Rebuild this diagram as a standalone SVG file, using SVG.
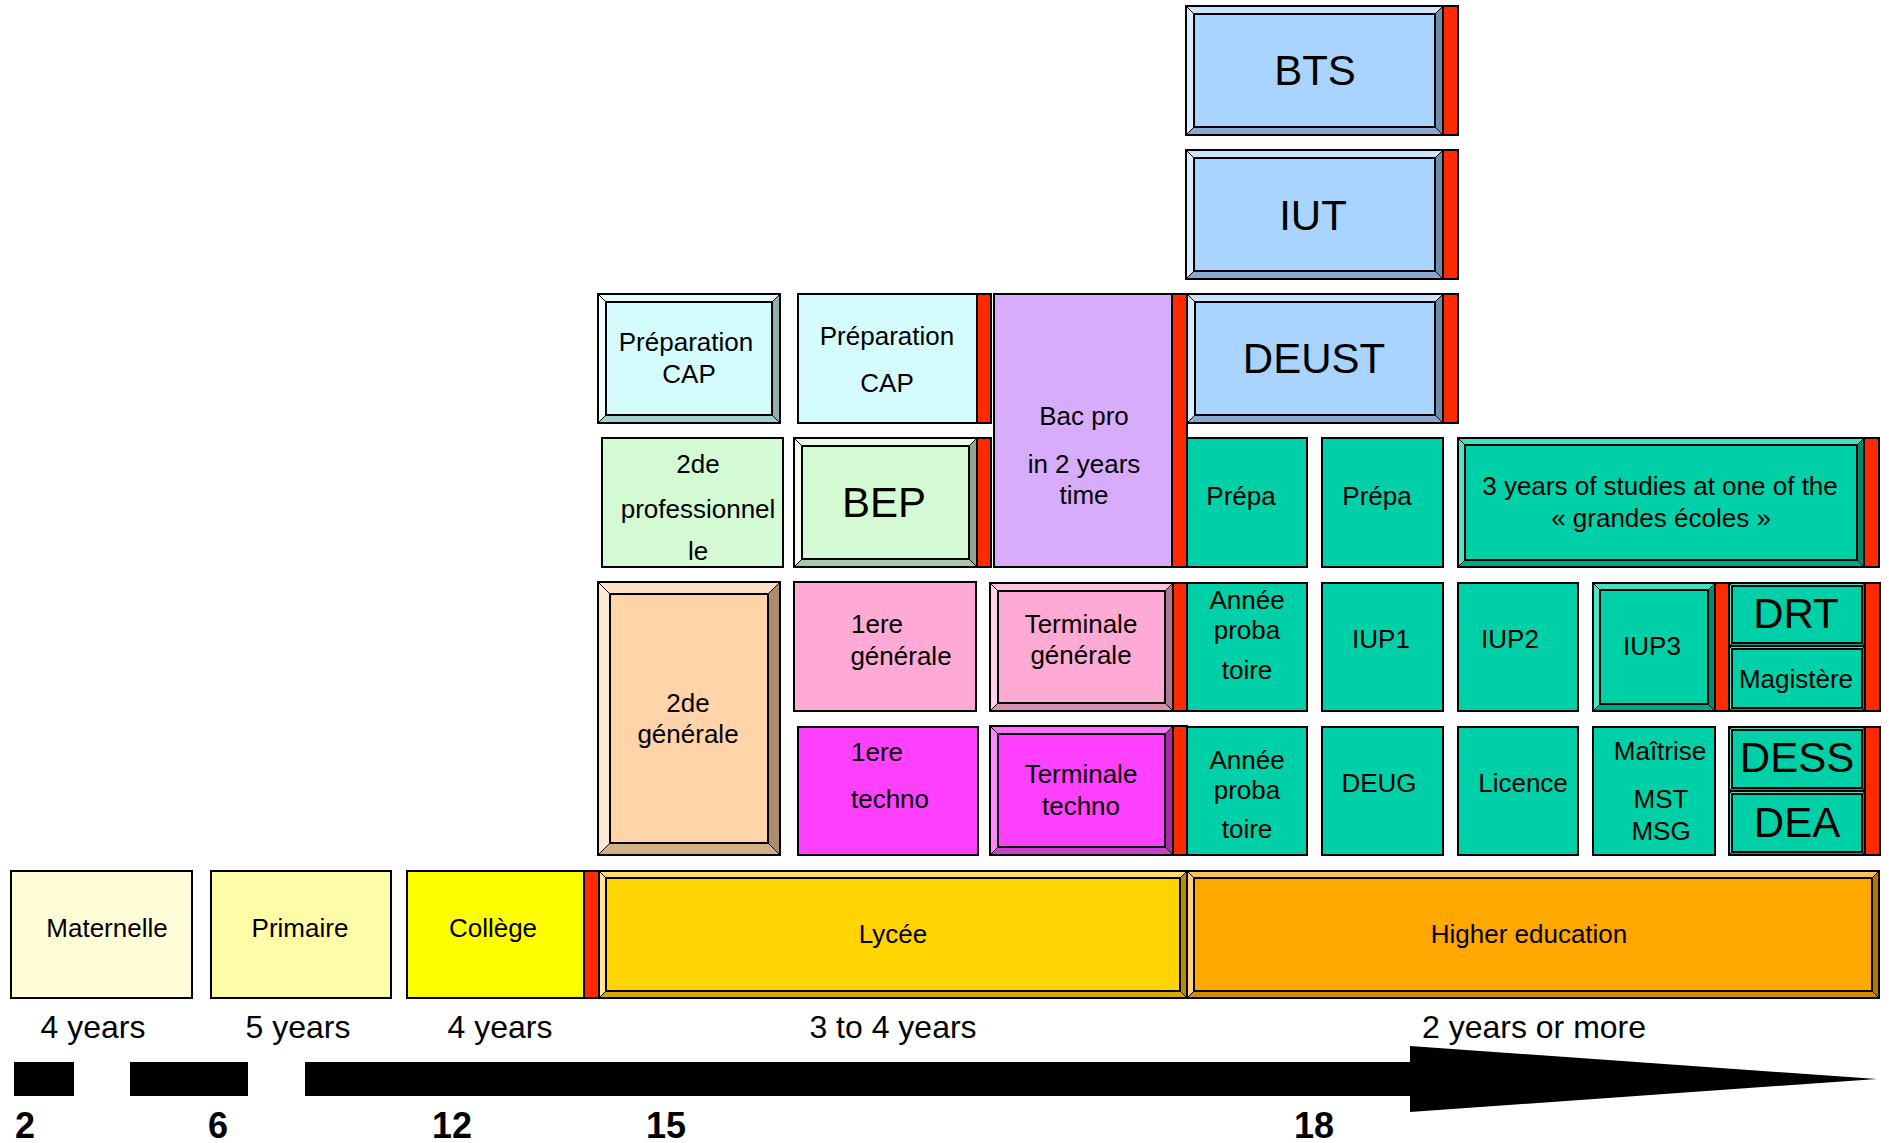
<svg xmlns="http://www.w3.org/2000/svg" width="1889" height="1143" viewBox="0 0 1889 1143">
<style>
.bx polygon{stroke:#000;stroke-width:1}
.bx .in{stroke:#000;stroke-width:2}
.bx .o{fill:none;stroke:#000;stroke-width:2}
.fl{stroke:#000;stroke-width:2}
.red{fill:#ff2a00;stroke:#000;stroke-width:2}
.blue .in{fill:#a8d4ff}.blue .tp{fill:#c8e4ff}.blue .lf{fill:#d8eeff}.blue .rt{fill:#6c8cac}.blue .bt{fill:#88a8cc}
.cyan .in{fill:#d4fcfc}.cyan .tp{fill:#e4ffff}.cyan .lf{fill:#eeffff}.cyan .rt{fill:#90b0b0}.cyan .bt{fill:#a8cccc}
.green .in{fill:#d4fad4}.green .tp{fill:#e4ffe4}.green .lf{fill:#eeffee}.green .rt{fill:#90a890}.green .bt{fill:#a8c8a8}
.peach .in{fill:#ffd4a8}.peach .tp{fill:#ffe2c4}.peach .lf{fill:#ffe8d4}.peach .rt{fill:#ac8c6c}.peach .bt{fill:#d4b088}
.pink .in{fill:#ffaad4}.pink .tp{fill:#ffc4e0}.pink .lf{fill:#ffd4ea}.pink .rt{fill:#b07890}.pink .bt{fill:#d890b0}
.mag .in{fill:#ff40ff}.mag .tp{fill:#ff70ff}.mag .lf{fill:#ff88ff}.mag .rt{fill:#a828a8}.mag .bt{fill:#cc40cc}
.teal .in{fill:#00d0a8}.teal .tp{fill:#40e0c0}.teal .lf{fill:#50e4c8}.teal .rt{fill:#008c70}.teal .bt{fill:#00a888}
.gold .in{fill:#ffd400}.gold .tp{fill:#ffe060}.gold .lf{fill:#ffe890}.gold .rt{fill:#b09000}.gold .bt{fill:#d4aa00}
.orange .in{fill:#ffa800}.orange .tp{fill:#ffc050}.orange .lf{fill:#ffd080}.orange .rt{fill:#b07800}.orange .bt{fill:#d08c00}
.f-mat{fill:#fffdd8}.f-pri{fill:#fffca8}.f-col{fill:#ffff00}.f-lav{fill:#d8acfc}.f-cyan{fill:#d4fcfc}.f-green{fill:#d4fad4}.f-pink{fill:#ffaad4}.f-mag{fill:#ff40ff}.f-teal{fill:#00d0a8}
text{font-family:"Liberation Sans",Arial,sans-serif;font-size:26px;text-anchor:middle;fill:#000}
.big{font-size:42px}
.yr{font-size:32px}
.age{font-size:36px;font-weight:bold}
</style>

<g id="bts" class="bx blue">
<polygon class="tp" points="1186,6 1443,6 1435,14 1194,14"/><polygon class="lf" points="1186,6 1194,14 1194,127 1186,135"/><polygon class="rt" points="1443,6 1443,135 1435,127 1435,14"/><polygon class="bt" points="1186,135 1194,127 1435,127 1443,135"/>
<rect class="in" x="1194" y="14" width="241" height="113"/><rect class="o" x="1186" y="6" width="257" height="129"/>
<rect class="red" x="1443" y="6" width="15" height="129"/>
<text class="big" x="1315" y="85">BTS</text>
</g>
<g id="iut" class="bx blue">
<polygon class="tp" points="1186,150 1443,150 1435,158 1194,158"/><polygon class="lf" points="1186,150 1194,158 1194,271 1186,279"/><polygon class="rt" points="1443,150 1443,279 1435,271 1435,158"/><polygon class="bt" points="1186,279 1194,271 1435,271 1443,279"/>
<rect class="in" x="1194" y="158" width="241" height="113"/><rect class="o" x="1186" y="150" width="257" height="129"/>
<rect class="red" x="1443" y="150" width="15" height="129"/>
<text class="big" x="1313" y="230">IUT</text>
</g>
<g id="deust" class="bx blue">
<polygon class="tp" points="1187,294 1443,294 1435,302 1195,302"/><polygon class="lf" points="1187,294 1195,302 1195,415 1187,423"/><polygon class="rt" points="1443,294 1443,423 1435,415 1435,302"/><polygon class="bt" points="1187,423 1195,415 1435,415 1443,423"/>
<rect class="in" x="1195" y="302" width="240" height="113"/><rect class="o" x="1187" y="294" width="256" height="129"/>
<rect class="red" x="1443" y="294" width="15" height="129"/>
<text class="big" x="1314" y="373">DEUST</text>
</g>

<g id="prepcap1" class="bx cyan">
<polygon class="tp" points="598,294 780,294 772,302 606,302"/><polygon class="lf" points="598,294 606,302 606,415 598,423"/><polygon class="rt" points="780,294 780,423 772,415 772,302"/><polygon class="bt" points="598,423 606,415 772,415 780,423"/>
<rect class="in" x="606" y="302" width="166" height="113"/><rect class="o" x="598" y="294" width="182" height="129"/>
<text x="686" y="351">Préparation</text><text x="689" y="383">CAP</text>
</g>
<g id="prepcap2">
<rect class="fl f-cyan" x="798" y="294" width="179" height="129"/>
<rect class="red" x="977" y="294" width="14" height="129"/>
<text x="887" y="345">Préparation</text><text x="887" y="392">CAP</text>
</g>
<g id="bacpro">
<rect class="fl f-lav" x="994" y="294" width="178" height="273"/>
<rect class="red" x="1172" y="294" width="15" height="273"/>
<text x="1084" y="425">Bac pro</text><text x="1084" y="473">in 2 years</text><text x="1084" y="504">time</text>
</g>
<g id="deuxpro">
<rect class="fl f-green" x="602" y="438" width="181" height="129"/>
<text x="698" y="473">2de</text><text x="698" y="518">professionnel</text><text x="698" y="560">le</text>
</g>
<g id="bep" class="bx green">
<polygon class="tp" points="794,438 977,438 969,446 802,446"/><polygon class="lf" points="794,438 802,446 802,559 794,567"/><polygon class="rt" points="977,438 977,567 969,559 969,446"/><polygon class="bt" points="794,567 802,559 969,559 977,567"/>
<rect class="in" x="802" y="446" width="167" height="113"/><rect class="o" x="794" y="438" width="183" height="129"/>
<rect class="red" x="977" y="438" width="14" height="129"/>
<text class="big" x="884" y="517">BEP</text>
</g>

<g id="prepa1"><rect class="fl f-teal" x="1187" y="438" width="120" height="129"/><text x="1241" y="505">Prépa</text></g>
<g id="prepa2"><rect class="fl f-teal" x="1322" y="438" width="121" height="129"/><text x="1377" y="505">Prépa</text></g>
<g id="grandesecoles" class="bx teal">
<polygon class="tp" points="1458,438 1864,438 1857,445 1465,445"/><polygon class="lf" points="1458,438 1465,445 1465,560 1458,567"/><polygon class="rt" points="1864,438 1864,567 1857,560 1857,445"/><polygon class="bt" points="1458,567 1465,560 1857,560 1864,567"/>
<rect class="in" x="1465" y="445" width="392" height="115"/><rect class="o" x="1458" y="438" width="406" height="129"/>
<rect class="red" x="1864" y="438" width="15" height="129"/>
<text x="1660" y="495">3 years of studies at one of the</text><text x="1661" y="527">« grandes écoles »</text>
</g>

<g id="deuxgen" class="bx peach">
<polygon class="tp" points="598,582 780,582 768,594 610,594"/><polygon class="lf" points="598,582 610,594 610,843 598,855"/><polygon class="rt" points="780,582 780,855 768,843 768,594"/><polygon class="bt" points="598,855 610,843 768,843 780,855"/>
<rect class="in" x="610" y="594" width="158" height="249"/><rect class="o" x="598" y="582" width="182" height="273"/>
<text x="688" y="712">2de</text><text x="688" y="743">générale</text>
</g>
<g id="premgen">
<rect class="fl f-pink" x="794" y="582" width="182" height="129"/>
<text x="877" y="633">1ere</text><text x="901" y="665">générale</text>
</g>
<g id="termgen" class="bx pink">
<polygon class="tp" points="990,583 1173,583 1165,591 998,591"/><polygon class="lf" points="990,583 998,591 998,703 990,711"/><polygon class="rt" points="1173,583 1173,711 1165,703 1165,591"/><polygon class="bt" points="990,711 998,703 1165,703 1173,711"/>
<rect class="in" x="998" y="591" width="167" height="112"/><rect class="o" x="990" y="583" width="183" height="128"/>
<rect class="red" x="1173" y="583" width="14" height="128"/>
<text x="1081" y="633">Terminale</text><text x="1081" y="664">générale</text>
</g>
<g id="annee1"><rect class="fl f-teal" x="1187" y="583" width="120" height="128"/><text x="1247" y="609">Année</text><text x="1247" y="639">proba</text><text x="1247" y="679">toire</text></g>
<g id="iup1"><rect class="fl f-teal" x="1322" y="583" width="121" height="128"/><text x="1381" y="648">IUP1</text></g>
<g id="iup2"><rect class="fl f-teal" x="1458" y="583" width="120" height="128"/><text x="1510" y="648">IUP2</text></g>
<g id="iup3" class="bx teal">
<polygon class="tp" points="1593,583 1715,583 1708,590 1600,590"/><polygon class="lf" points="1593,583 1600,590 1600,704 1593,711"/><polygon class="rt" points="1715,583 1715,711 1708,704 1708,590"/><polygon class="bt" points="1593,711 1600,704 1708,704 1715,711"/>
<rect class="in" x="1600" y="590" width="108" height="114"/><rect class="o" x="1593" y="583" width="122" height="128"/>
<rect class="red" x="1715" y="583" width="14" height="128"/>
<text x="1652" y="655">IUP3</text>
</g>
<g id="drt" class="bx teal">
<polygon class="tp" points="1729,583 1865,583 1862,586 1732,586"/><polygon class="lf" points="1729,583 1732,586 1732,643 1729,646"/><polygon class="rt" points="1865,583 1865,646 1862,643 1862,586"/><polygon class="bt" points="1729,646 1732,643 1862,643 1865,646"/>
<rect class="in" x="1732" y="586" width="130" height="57"/><rect class="o" x="1729" y="583" width="136" height="63"/>
<text class="big" x="1796" y="628">DRT</text>
</g>
<g id="magistere" class="bx teal">
<polygon class="tp" points="1729,646 1865,646 1862,649 1732,649"/><polygon class="lf" points="1729,646 1732,649 1732,708 1729,711"/><polygon class="rt" points="1865,646 1865,711 1862,708 1862,649"/><polygon class="bt" points="1729,711 1732,708 1862,708 1865,711"/>
<rect class="in" x="1732" y="649" width="130" height="59"/><rect class="o" x="1729" y="646" width="136" height="65"/>
<rect class="red" x="1865" y="583" width="15" height="128"/>
<text x="1796" y="688">Magistère</text>
</g>

<g id="premtechno">
<rect class="fl f-mag" x="798" y="727" width="180" height="128"/>
<text x="877" y="761">1ere</text><text x="890" y="808">techno</text>
</g>
<g id="termtechno" class="bx mag">
<polygon class="tp" points="990,726 1173,726 1165,734 998,734"/><polygon class="lf" points="990,726 998,734 998,847 990,855"/><polygon class="rt" points="1173,726 1173,855 1165,847 1165,734"/><polygon class="bt" points="990,855 998,847 1165,847 1173,855"/>
<rect class="in" x="998" y="734" width="167" height="113"/><rect class="o" x="990" y="726" width="183" height="129"/>
<rect class="red" x="1173" y="726" width="14" height="129"/>
<text x="1081" y="783">Terminale</text><text x="1081" y="815">techno</text>
</g>
<g id="annee2"><rect class="fl f-teal" x="1187" y="727" width="120" height="128"/><text x="1247" y="769">Année</text><text x="1247" y="799">proba</text><text x="1247" y="838">toire</text></g>
<g id="deug"><rect class="fl f-teal" x="1322" y="727" width="121" height="128"/><text x="1379" y="792">DEUG</text></g>
<g id="licence"><rect class="fl f-teal" x="1458" y="727" width="120" height="128"/><text x="1523" y="792">Licence</text></g>
<g id="maitrise"><rect class="fl f-teal" x="1593" y="727" width="122" height="128"/><text x="1660" y="760">Maîtrise</text><text x="1661" y="808">MST</text><text x="1661" y="840">MSG</text></g>
<g id="dess" class="bx teal">
<polygon class="tp" points="1729,727 1865,727 1862,730 1732,730"/><polygon class="lf" points="1729,727 1732,730 1732,788 1729,791"/><polygon class="rt" points="1865,727 1865,791 1862,788 1862,730"/><polygon class="bt" points="1729,791 1732,788 1862,788 1865,791"/>
<rect class="in" x="1732" y="730" width="130" height="58"/><rect class="o" x="1729" y="727" width="136" height="64"/>
<text class="big" x="1797" y="772">DESS</text>
</g>
<g id="dea" class="bx teal">
<polygon class="tp" points="1729,791 1865,791 1862,794 1732,794"/><polygon class="lf" points="1729,791 1732,794 1732,852 1729,855"/><polygon class="rt" points="1865,791 1865,855 1862,852 1862,794"/><polygon class="bt" points="1729,855 1732,852 1862,852 1865,855"/>
<rect class="in" x="1732" y="794" width="130" height="58"/><rect class="o" x="1729" y="791" width="136" height="64"/>
<rect class="red" x="1865" y="727" width="15" height="128"/>
<text class="big" x="1797" y="837">DEA</text>
</g>

<g id="maternelle"><rect class="fl f-mat" x="11" y="871" width="181" height="127"/><text x="107" y="937">Maternelle</text></g>
<g id="primaire"><rect class="fl f-pri" x="211" y="871" width="180" height="127"/><text x="300" y="937">Primaire</text></g>
<g id="college"><rect class="fl f-col" x="407" y="871" width="177" height="127"/><rect class="red" x="584" y="871" width="15" height="127"/><text x="493" y="937">Collège</text></g>
<g id="lycee" class="bx gold">
<polygon class="tp" points="599,871 1187,871 1180,878 606,878"/><polygon class="lf" points="599,871 606,878 606,991 599,998"/><polygon class="rt" points="1187,871 1187,998 1180,991 1180,878"/><polygon class="bt" points="599,998 606,991 1180,991 1187,998"/>
<rect class="in" x="606" y="878" width="574" height="113"/><rect class="o" x="599" y="871" width="588" height="127"/>
<text x="893" y="943">Lycée</text>
</g>
<g id="higher" class="bx orange">
<polygon class="tp" points="1187,871 1879,871 1872,878 1194,878"/><polygon class="lf" points="1187,871 1194,878 1194,991 1187,998"/><polygon class="rt" points="1879,871 1879,998 1872,991 1872,878"/><polygon class="bt" points="1187,998 1194,991 1872,991 1879,998"/>
<rect class="in" x="1194" y="878" width="678" height="113"/><rect class="o" x="1187" y="871" width="692" height="127"/>
<text x="1529" y="943">Higher education</text>
</g>

<g id="timeline">
<text class="yr" x="93" y="1038">4 years</text>
<text class="yr" x="298" y="1038">5 years</text>
<text class="yr" x="500" y="1038">4 years</text>
<text class="yr" x="893" y="1038">3 to 4 years</text>
<text class="yr" x="1534" y="1038">2 years or more</text>
<rect x="14" y="1062" width="60" height="34" fill="#000"/>
<rect x="130" y="1062" width="118" height="34" fill="#000"/>
<polygon points="305,1062 1410,1062 1410,1046 1877,1079 1410,1112 1410,1096 305,1096" fill="#000"/>
<text class="age" x="25" y="1138">2</text>
<text class="age" x="218" y="1138">6</text>
<text class="age" x="452" y="1138">12</text>
<text class="age" x="666" y="1138">15</text>
<text class="age" x="1314" y="1138">18</text>
</g>
</svg>
